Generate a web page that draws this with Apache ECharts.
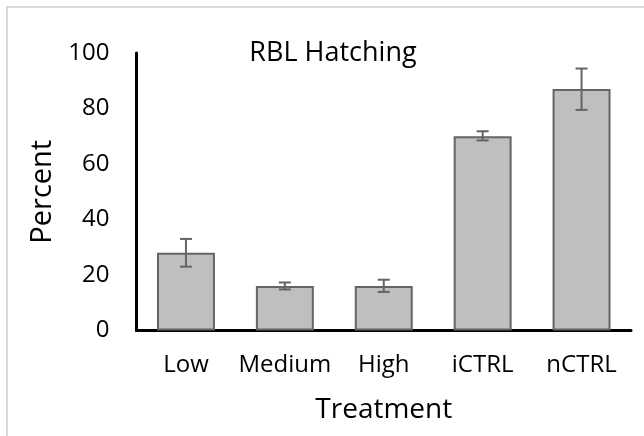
<!DOCTYPE html>
<html>
<head>
<meta charset="utf-8">
<script src="https://cdn.jsdelivr.net/npm/echarts@6/dist/echarts.min.js"></script>
<style>
  html, body { margin: 0; padding: 0; background: #ffffff; }
  #chart { width: 644px; height: 436px; }
</style>
</head>
<body>
<div id="chart"></div>
<script>
// Hatching percentage per treatment, with error bar bounds
const categories = ['Low', 'Medium', 'High', 'iCTRL', 'nCTRL'];
const percent = [28, 16, 16, 70, 87];
const errLow = [23, 14.8, 13.9, 68.5, 79.5];
const errHigh = [33, 17.3, 18.3, 71.8, 94.4];
const yTicks = [0, 20, 40, 60, 80, 100];

const FONT = '"Open Sans", "Noto Sans", sans-serif';
const chart = echarts.init(document.getElementById('chart'), null, { renderer: 'canvas' });

const errorData = categories.map((c, i) => [i, errLow[i], errHigh[i]]);

chart.setOption({
  animation: false,
  backgroundColor: '#ffffff',
  title: {
    text: 'RBL Hatching',
    left: 328,
    top: 35,
    textAlign: 'center',
    textStyle: { fontFamily: FONT, fontSize: 27, fontWeight: 'normal', color: '#000000' }
  },
  graphic: [{
    type: 'rect',
    shape: { x: 7, y: 7, width: 700, height: 500 },
    style: { fill: 'none', stroke: '#d9d9d9', lineWidth: 2 },
    silent: true
  }],
  grid: { left: 136.5, right: 13, top: 53, bottom: 105.5 },
  xAxis: {
    type: 'category',
    data: categories,
    name: 'Treatment',
    nameLocation: 'middle',
    nameGap: 66,
    nameTextStyle: { fontFamily: FONT, fontSize: 28, color: '#000000' },
    axisLine: { lineStyle: { color: '#000000', width: 3 } },
    axisTick: { show: false },
    axisLabel: { interval: 0, fontFamily: FONT, fontSize: 24, color: '#000000', margin: 23 }
  },
  yAxis: {
    type: 'value',
    min: yTicks[0],
    max: yTicks[yTicks.length - 1],
    interval: yTicks[1] - yTicks[0],
    name: 'Percent',
    nameLocation: 'middle',
    nameGap: 79,
    nameTextStyle: { fontFamily: FONT, fontSize: 29, color: '#000000' },
    axisLine: { show: true, lineStyle: { color: '#000000', width: 3 } },
    axisTick: { show: false },
    splitLine: { show: false },
    axisLabel: { fontFamily: FONT, fontSize: 24, color: '#000000', margin: 27 }
  },
  series: [{
    type: 'bar',
    data: percent,
    barWidth: '58.6%',
    itemStyle: { color: '#bfbfbf', borderColor: '#646464', borderWidth: 2 },
    z: 2
  }, {
    type: 'custom',
    data: errorData,
    z: 3,
    renderItem: function (params, api) {
      const x = api.value(0);
      const lo = api.coord([x, api.value(1)]);
      const hi = api.coord([x, api.value(2)]);
      const half = 6;
      const style = { stroke: '#646464', lineWidth: 2 };
      return {
        type: 'group',
        children: [
          { type: 'line', shape: { x1: lo[0], y1: lo[1], x2: hi[0], y2: hi[1] }, style: style },
          { type: 'line', shape: { x1: lo[0] - half, y1: lo[1], x2: lo[0] + half, y2: lo[1] }, style: style },
          { type: 'line', shape: { x1: hi[0] - half, y1: hi[1], x2: hi[0] + half, y2: hi[1] }, style: style }
        ]
      };
    }
  }]
});
</script>
</body>
</html>
